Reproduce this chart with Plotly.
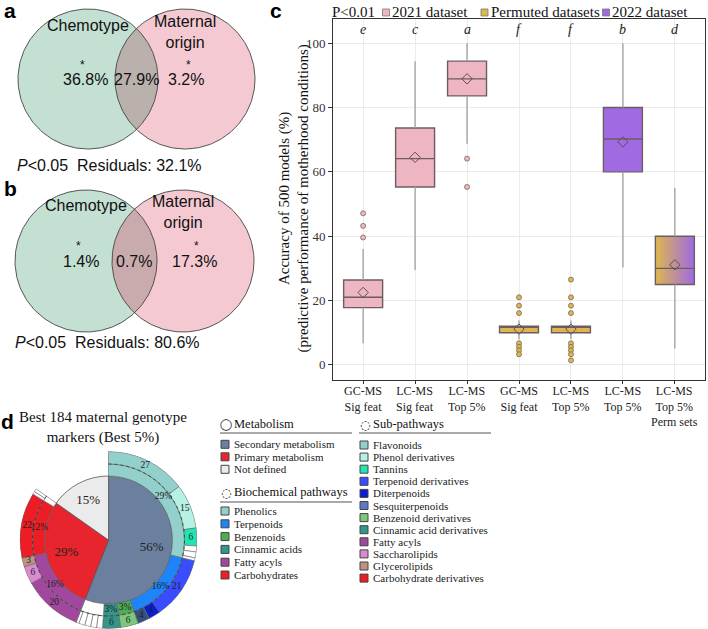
import numpy as np
import plotly.graph_objects as go

W, H = 708, 629
SERIF = "Liberation Serif"
SANS = "Liberation Sans"

# ---------------- DATA ----------------
# Panels a / b : variance partitioning (Venn)
venn_sets = ["Chemotype", "Maternal<br>origin"]
venn_a_parts = ["36.8%", "27.9%", "3.2%"]
venn_a_residual = "32.1%"
venn_b_parts = ["1.4%", "0.7%", "17.3%"]
venn_b_residual = "80.6%"
venn_pvalue = "<i>P</i><0.05"

# Panel c : accuracy of 500 models
c_tick_labels = ["GC-MS<br>Sig feat", "LC-MS<br>Sig feat", "LC-MS<br>Top 5%",
                 "GC-MS<br>Sig feat", "LC-MS<br>Top 5%", "LC-MS<br>Top 5%",
                 "LC-MS<br>Top 5%<br>Perm sets"]
c_dataset = ["2021", "2021", "2021", "perm", "perm", "2022", "mixed"]
c_letters = ["e", "c", "a", "f", "f", "b", "d"]
c_q1 = [17.8, 55.3, 83.6, 10.0, 10.0, 60.0, 25.0]
c_median = [21.0, 64.1, 88.9, 12.0, 12.0, 70.2, 30.0]
c_q3 = [26.4, 73.6, 94.4, 12.0, 12.0, 80.0, 40.0]
c_lower = [6.7, 29.5, 68.7, 8.0, 8.0, 30.3, 5.1]
c_upper = [36.0, 94.4, 100.0, 13.8, 13.8, 100.0, 55.0]
c_mean = [22.5, 64.5, 88.9, 11.1, 11.1, 69.3, 31.1]
c_outliers = [[39.6, 43.2, 47.1], [], [64.1, 55.3],
              [21.0, 18.4, 16.1, 6.7, 5.6, 4.5, 3.3],
              [26.5, 21.0, 18.4, 16.1, 6.7, 5.6, 4.5, 3.3, 1.4],
              [], []]
c_legend_names = ["2021 dataset", "Permuted datasets", "2022 dataset"]
c_yticks = [0, 20, 40, 60, 80, 100]

# Panel d : sunburst of 184 markers
d_title = "Best 184 maternal genotype<br>markers (Best 5%)"
metab_names = ["Secondary metabolism", "Primary metabolism", "Not defined"]
metab_counts = [103, 53, 28]
metab_colors = ["#6B809E", "#E8252E", "#EBEBEB"]

path_names = ["Phenolics", "Terpenoids", "Benzenoids", "Cinnamic acids", "",
              "Fatty acyls", "Carbohydrates", ""]
path_counts = [53, 29, 6, 6, 9, 29, 22, 2]
path_colors = ["#92D0CB", "#1E84FA", "#4DAE52", "#33968A", "#FFFFFF",
               "#A2479E", "#EE1C24", "#FFFFFF"]

sub_names = ["Flavonoids", "Phenol derivatives", "Tannins", "", "", "",
             "Terpenoid derivatives", "Diterpenoids", "Sesquiterpenoids",
             "Benzenoid derivatives", "Cinnamic acid derivatives", "", "", "", "", "",
             "Fatty acyls", "Saccharolipids", "Glycerolipids",
             "Carbohydrate derivatives", "", ""]
sub_counts = [27, 15, 6, 2, 2, 1, 21, 4, 4, 6, 6, 2, 2, 2, 2, 1, 20, 6, 3, 22, 1, 1]
sub_colors = ["#92D0CB", "#B6F1E3", "#1FE6B0", "#FFFFFF", "#FFFFFF", "#FFFFFF",
              "#3A4CFF", "#0A1DD0", "#34507E", "#7CC97C", "#33968A",
              "#FFFFFF", "#FFFFFF", "#FFFFFF", "#FFFFFF", "#FFFFFF",
              "#A2479E", "#D98AD0", "#BF9283", "#EE1C24", "#FFFFFF", "#FFFFFF"]

legend_metab = ["Secondary metabolism", "Primary metabolism", "Not defined"]
legend_metab_colors = ["#6B809E", "#E8252E", "#EBEBEB"]
legend_path = ["Phenolics", "Terpenoids", "Benzenoids", "Cinnamic acids", "Fatty acyls", "Carbohydrates"]
legend_path_colors = ["#92D0CB", "#1E84FA", "#4DAE52", "#33968A", "#A2479E", "#EE1C24"]
legend_sub = ["Flavonoids", "Phenol derivatives", "Tannins", "Terpenoid derivatives", "Diterpenoids",
              "Sesquiterpenoids", "Benzenoid derivatives", "Cinnamic acid derivatives", "Fatty acyls",
              "Saccharolipids", "Glycerolipids", "Carbohydrate derivatives"]
legend_sub_colors = ["#92D0CB", "#B6F1E3", "#1FE6B0", "#3A4CFF", "#0A1DD0", "#5C7AC8",
                     "#7CC97C", "#33968A", "#A2479E", "#D98AD0", "#BF9283", "#EE1C24"]

# ---------------- STYLE ----------------
COL = {"2021": "#EDB6C2", "perm": "#DDB64F", "2022": "#A06AE3"}
BOX_LINE = "#6d5d60"
BOXW = 0.75

fig = go.Figure()
annotations = []
shapes = []

CX, CY = "x2", "y2"   # full-figure canvas axes in pixel units


def canvas_text(x, y, text, size, family=SANS, xanchor="center", color="#111", **kw):
    annotations.append(dict(x=x, y=y, xref=CX, yref=CY, text=text, showarrow=False,
                            xanchor=xanchor, yanchor="middle",
                            font=dict(family=family, size=size, color=color), **kw))


# ---------------- Panels a & b : Venn ----------------
def venn(cy, c1x, c2x, r, parts, residual, lens_color, ylabels, ystar, yres, label_x):
    t = np.linspace(0, 2 * np.pi, 240)
    fig.add_trace(go.Scatter(x=c1x + r * np.cos(t), y=cy + r * np.sin(t), fill="toself",
                             fillcolor="#C3E0D3", line=dict(width=0), mode="lines",
                             xaxis=CX, yaxis=CY, hoverinfo="skip", showlegend=False))
    fig.add_trace(go.Scatter(x=c2x + r * np.cos(t), y=cy + r * np.sin(t), fill="toself",
                             fillcolor="#F5C9D2", line=dict(width=0), mode="lines",
                             xaxis=CX, yaxis=CY, hoverinfo="skip", showlegend=False))
    d = c2x - c1x
    a = np.arccos(d / 2 / r)
    t1 = np.linspace(-a, a, 80)
    t2 = np.linspace(np.pi - a, np.pi + a, 80)
    lx = np.concatenate([c1x + r * np.cos(t1), c2x + r * np.cos(t2)])
    ly = np.concatenate([cy + r * np.sin(t1), cy + r * np.sin(t2)])
    fig.add_trace(go.Scatter(x=lx, y=ly, fill="toself", fillcolor=lens_color,
                             line=dict(width=0), mode="lines",
                             xaxis=CX, yaxis=CY, hoverinfo="skip", showlegend=False))
    for cx in (c1x, c2x):
        fig.add_trace(go.Scatter(x=cx + r * np.cos(t), y=cy + r * np.sin(t), mode="lines",
                                 line=dict(color="#444", width=0.9),
                                 xaxis=CX, yaxis=CY, hoverinfo="skip", showlegend=False))
    canvas_text(label_x[0], ylabels, venn_sets[0], 16)
    canvas_text(label_x[1], ylabels + 6.5, venn_sets[1], 16)
    px = label_x[2]
    for i, p in enumerate(parts):
        canvas_text(px[i], cy, p, 16)
    canvas_text(px[0] - 3, ystar, "*", 12)
    canvas_text(px[2] + 2, ystar, "*", 12)
    canvas_text(label_x[3], yres, venn_pvalue + "  Residuals: " + residual, 16)


venn(79, 88, 185, 70, venn_a_parts, venn_a_residual, "#BAB1AD", 25, 65, 165,
     (88, 185, (85.5, 136.7, 186), 109))
venn(261, 86, 183, 71, venn_b_parts, venn_b_residual, "#C9ABAE", 205, 246, 342,
     (86, 183, (81, 133.5, 194), 107))

# ---------------- Panel c : boxplots ----------------
pos = list(range(len(c_q1)))
wx, wy = [], []
for i in pos:
    wx += [i, i, None, i, i, None]
    wy += [c_lower[i], c_q1[i], None, c_q3[i], c_upper[i], None]
fig.add_trace(go.Scatter(x=wx, y=wy, mode="lines", line=dict(color="#A5A5A5", width=1.4),
                         hoverinfo="skip", showlegend=False))

for i in pos:
    if c_dataset[i] == "mixed":
        n = 60
        edges = np.linspace(i - BOXW / 2, i + BOXW / 2, n + 1)
        fig.add_trace(go.Heatmap(x=edges, y=[c_q1[i], c_q3[i]], z=[list(range(n))],
                                 colorscale=[[0, COL["perm"]], [1, COL["2022"]]],
                                 showscale=False, hoverinfo="skip"))

for i in pos:
    fill = "rgba(0,0,0,0)" if c_dataset[i] == "mixed" else COL[c_dataset[i]]
    fig.add_trace(go.Box(x=[i], q1=[c_q1[i]], median=[c_median[i]], q3=[c_q3[i]],
                         lowerfence=[c_q1[i]], upperfence=[c_q3[i]], width=BOXW,
                         fillcolor=fill, line=dict(color=BOX_LINE, width=1.4),
                         boxpoints=False, showlegend=False, hoverinfo="skip"))

for i in pos:
    if c_outliers[i]:
        fill = COL[c_dataset[i]]
        fig.add_trace(go.Scatter(x=[i] * len(c_outliers[i]), y=c_outliers[i], mode="markers",
                                 marker=dict(size=5, color=fill, line=dict(color="#7a6a55", width=0.8)),
                                 hoverinfo="skip", showlegend=False))
fig.add_trace(go.Scatter(x=pos, y=c_mean, mode="markers",
                         marker=dict(symbol="diamond-open", size=8, color="#5e4e52",
                                     line=dict(width=1)),
                         hoverinfo="skip", showlegend=False))

for i in pos:
    annotations.append(dict(x=i, y=104.3, xref="x", yref="y", text="<i>%s</i>" % c_letters[i],
                            showarrow=False, font=dict(family=SERIF, size=14, color="#222")))
for i in pos:
    annotations.append(dict(x=i, y=382, xref="x", yref=CY, text=c_tick_labels[i],
                            showarrow=False, yanchor="top",
                            font=dict(family=SERIF, size=12, color="#222")))
canvas_text(293.5, 199, "Accuracy of 500 models (%)<br>(predictive performance of motherhood conditions)",
            15, family=SERIF, textangle=-90, color="#111")

canvas_text(330, 12, "P<0.01", 15, family=SERIF, xanchor="left")
leg_sq_x = [386, 484.5, 606]
leg_txt_x = [390, 489, 610]
leg_cols = [COL["2021"], COL["perm"], COL["2022"]]
fig.add_trace(go.Scatter(x=leg_sq_x, y=[12.5] * 3, mode="markers", xaxis=CX, yaxis=CY,
                         marker=dict(symbol="square", size=7, color=leg_cols,
                                     line=dict(color="#777", width=0.8)),
                         hoverinfo="skip", showlegend=False))
for k, name in enumerate(c_legend_names):
    canvas_text(leg_txt_x[k], 12, name, 15, family=SERIF, xanchor="left")

# ---------------- Panel d : sunburst ----------------
TOT = sum(metab_counts)
R_PIE, R_MID, R_OUT = 64, 76, 88.5


def ring_geometry(counts):
    widths = np.array(counts) / TOT * 360.0
    starts = np.concatenate([[0], np.cumsum(widths)[:-1]])
    return starts + widths / 2, widths


th, wd = ring_geometry(metab_counts)
fig.add_trace(go.Barpolar(theta=th, width=wd, r=[R_PIE] * len(th), base=0,
                          marker=dict(color=metab_colors, line=dict(color="#555", width=0.8)),
                          hoverinfo="skip", showlegend=False))
thp, wdp = ring_geometry(path_counts)
fig.add_trace(go.Barpolar(theta=thp, width=wdp, r=[R_MID - R_PIE] * len(thp), base=R_PIE,
                          marker=dict(color=path_colors, line=dict(color="#666", width=0.6)),
                          hoverinfo="skip", showlegend=False))
ths, wds = ring_geometry(sub_counts)
fig.add_trace(go.Barpolar(theta=ths, width=wds, r=[R_OUT - R_MID] * len(ths), base=R_MID,
                          marker=dict(color=sub_colors, line=dict(color="#666", width=0.6)),
                          hoverinfo="skip", showlegend=False))
arc_end = sum(path_counts) / TOT * 360.0
arc_t = np.linspace(0, arc_end, 200)
fig.add_trace(go.Scatterpolar(theta=arc_t, r=[R_MID] * len(arc_t), mode="lines",
                              line=dict(color="#333", width=0.8, dash="dot"),
                              hoverinfo="skip", showlegend=False))
fig.add_trace(go.Scatterpolar(theta=th, r=[44] * len(th), mode="text",
                              text=["%d%%" % round(c / TOT * 100) for c in metab_counts],
                              textfont=dict(family=SERIF, size=13, color="#222"),
                              hoverinfo="skip", showlegend=False))
fig.add_trace(go.Scatterpolar(theta=thp, r=[70] * len(thp), mode="text",
                              text=["%d%%" % round(c / TOT * 100) if n else "" for c, n in zip(path_counts, path_names)],
                              textfont=dict(family=SERIF, size=9.5, color="#222"),
                              hoverinfo="skip", showlegend=False))
fig.add_trace(go.Scatterpolar(theta=ths, r=[82.5] * len(ths), mode="text",
                              text=[str(c) if n else "" for c, n in zip(sub_counts, sub_names)],
                              textfont=dict(family=SERIF, size=9.5, color="#222"),
                              hoverinfo="skip", showlegend=False))

canvas_text(103, 427, d_title, 15, family=SERIF)


def legend_block(x_sq, x_txt, y0, step, names, colors):
    ys = [y0 + step * k for k in range(len(names))]
    fig.add_trace(go.Scatter(x=[x_sq] * len(names), y=ys, mode="markers", xaxis=CX, yaxis=CY,
                             marker=dict(symbol="square", size=8, color=colors,
                                         line=dict(color="#444", width=1)),
                             hoverinfo="skip", showlegend=False))
    for yv, n in zip(ys, names):
        canvas_text(x_txt, yv, n, 11, family=SERIF, xanchor="left", color="#222")


canvas_text(226, 424.5, "◯", 11, family="DejaVu Sans", color="#111")
canvas_text(232, 424, "Metabolism", 12.5, family=SERIF, xanchor="left")
shapes.append(dict(type="line", xref=CX, yref=CY, x0=220, x1=352, y0=433, y1=433,
                   line=dict(color="#555", width=1)))
legend_block(225, 232, 444.3, 12.5, legend_metab, legend_metab_colors)
canvas_text(226, 492.5, "◌", 12, family="DejaVu Sans", color="#111")
canvas_text(232, 492, "Biochemical pathways", 12.5, family=SERIF, xanchor="left")
shapes.append(dict(type="line", xref=CX, yref=CY, x0=220, x1=352, y0=502, y1=502,
                   line=dict(color="#555", width=1)))
legend_block(225, 232, 511, 12.8, legend_path, legend_path_colors)
canvas_text(365, 424.5, "◌", 12, family="DejaVu Sans", color="#111")
canvas_text(371, 424, "Sub-pathways", 12.5, family=SERIF, xanchor="left")
shapes.append(dict(type="line", xref=CX, yref=CY, x0=359, x1=491, y0=433, y1=433,
                   line=dict(color="#555", width=1)))
legend_block(364, 371, 445, 12.1, legend_sub, legend_sub_colors)

for lab, x, y in [("a", 10, 10), ("b", 10, 188), ("c", 276, 10), ("d", 7, 421)]:
    canvas_text(x, y, "<b>%s</b>" % lab, 21, family=SANS, color="#000")

# ---------------- LAYOUT ----------------
fig.update_layout(
    width=W, height=H, margin=dict(l=0, r=0, t=0, b=0),
    paper_bgcolor="white", plot_bgcolor="rgba(0,0,0,0)",
    showlegend=False,
    xaxis=dict(domain=[333 / W, 705 / W], range=[-0.58, 6.58], tickvals=pos,
               showticklabels=False, ticks="outside", ticklen=3, tickcolor="#333",
               showgrid=True, gridcolor="#EBEBEB", gridwidth=1, zeroline=False,
               showline=True, mirror=True, linecolor="#333", linewidth=1, fixedrange=True),
    yaxis=dict(domain=[1 - 380 / H, 1 - 19 / H], range=[-4.7, 107.5], tickvals=c_yticks,
               ticks="outside", ticklen=4, tickcolor="#333",
               tickfont=dict(family=SERIF, size=13, color="#333"),
               showgrid=True, gridcolor="#EBEBEB", gridwidth=1, zeroline=False,
               showline=True, mirror=True, linecolor="#333", linewidth=1, fixedrange=True),
    xaxis2=dict(domain=[0, 1], range=[0, W], visible=False, fixedrange=True, anchor="y2"),
    yaxis2=dict(domain=[0, 1], range=[H, 0], visible=False, fixedrange=True, anchor="x2"),
    polar=dict(domain=dict(x=[19.5 / W, 197.5 / W], y=[0, 178 / H]),
               bgcolor="rgba(0,0,0,0)", bargap=0, hole=0,
               angularaxis=dict(rotation=90, direction="clockwise", visible=False),
               radialaxis=dict(range=[0, 89], visible=False)),
    annotations=annotations, shapes=shapes,
)

fig.write_html("out.html", config={"displayModeBar": False, "staticPlot": True},
               post_script="document.body.style.margin='0';document.body.style.overflow='hidden';")
